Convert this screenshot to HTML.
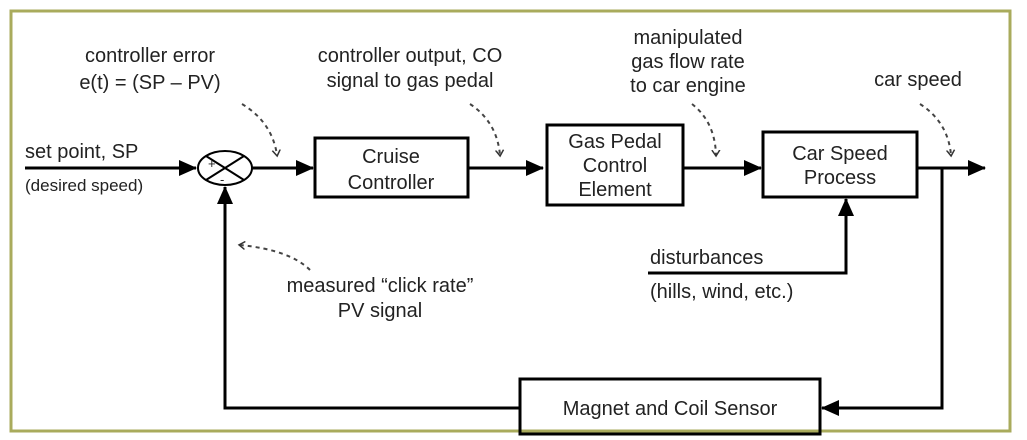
<!DOCTYPE html>
<html><head><meta charset="utf-8"><style>
html,body{margin:0;padding:0;background:#fff;}
svg{display:block;}
text{font-family:"Liberation Sans",Arial,sans-serif;font-size:20px;fill:#222;}
</style></head><body>
<svg width="1027" height="440" viewBox="0 0 1027 440" xmlns="http://www.w3.org/2000/svg">
<defs>
<marker id="ah2" markerWidth="18" markerHeight="16" refX="17" refY="8" orient="auto" markerUnits="userSpaceOnUse">
<path d="M0,0 L18,8 L0,16 Z" fill="#000"/></marker>
<marker id="dh" markerWidth="10" markerHeight="10" refX="5" refY="5" orient="auto" markerUnits="userSpaceOnUse">
<path d="M0,1 L6,5 L0,9" fill="none" stroke="#333" stroke-width="1.5"/></marker>
</defs>
<rect x="11" y="11" width="999" height="420" fill="none" stroke="#a9ab5c" stroke-width="3"/>
<g stroke="#000" stroke-width="3" fill="none">
<line x1="25" y1="168" x2="196" y2="168" marker-end="url(#ah2)"/>
<ellipse cx="225" cy="168" rx="27" ry="17" stroke-width="2"/>
<line x1="206" y1="156" x2="244" y2="180" stroke-width="2"/>
<line x1="206" y1="180" x2="244" y2="156" stroke-width="2"/>
<line x1="252" y1="168" x2="313" y2="168" marker-end="url(#ah2)"/>
<rect x="315" y="138" width="153" height="59"/>
<line x1="468" y1="168" x2="543" y2="168" marker-end="url(#ah2)"/>
<rect x="547" y="125" width="136" height="80"/>
<line x1="683" y1="168" x2="761" y2="168" marker-end="url(#ah2)"/>
<rect x="763" y="132" width="154" height="65"/>
<line x1="917" y1="168" x2="985" y2="168" marker-end="url(#ah2)"/>
<polyline points="942,168 942,408 822,408" marker-end="url(#ah2)"/>
<rect x="520" y="379" width="300" height="55"/>
<polyline points="520,408 225,408 225,187" marker-end="url(#ah2)"/>
<polyline points="648,273 846,273 846,199" marker-end="url(#ah2)"/>
</g>
<g stroke="#444" stroke-width="2" fill="none" stroke-dasharray="4,4">
<path d="M242,104 Q272,122 277,155" marker-end="url(#dh)"/>
<path d="M470,104 Q497,122 500,155" marker-end="url(#dh)"/>
<path d="M692,104 Q715,122 716,155" marker-end="url(#dh)"/>
<path d="M920,104 Q948,122 951,155" marker-end="url(#dh)"/>
<path d="M310,270 Q290,250 240,245" marker-end="url(#dh)"/>
</g>
<text x="208" y="168" style="font-size:13px">+</text>
<text x="220" y="184" style="font-size:13px">-</text>
<g text-anchor="middle">
<text x="150" y="62">controller error</text>
<text x="150" y="89">e(t) = (SP – PV)</text>
<text x="410" y="62">controller output, CO</text>
<text x="410" y="87">signal to gas pedal</text>
<text x="688" y="44">manipulated</text>
<text x="688" y="68">gas flow rate</text>
<text x="688" y="92">to car engine</text>
<text x="918" y="86">car speed</text>
<text x="391" y="163">Cruise</text>
<text x="391" y="189">Controller</text>
<text x="615" y="148">Gas Pedal</text>
<text x="615" y="172">Control</text>
<text x="615" y="196">Element</text>
<text x="840" y="160">Car Speed</text>
<text x="840" y="184">Process</text>
<text x="670" y="415">Magnet and Coil Sensor</text>
<text x="380" y="292">measured “click rate”</text>
<text x="380" y="317">PV signal</text>
</g>
<text x="25" y="158">set point, SP</text>
<text x="25" y="191" style="font-size:17px">(desired speed)</text>
<text x="650" y="264">disturbances</text>
<text x="650" y="298">(hills, wind, etc.)</text>
</svg>
</body></html>
